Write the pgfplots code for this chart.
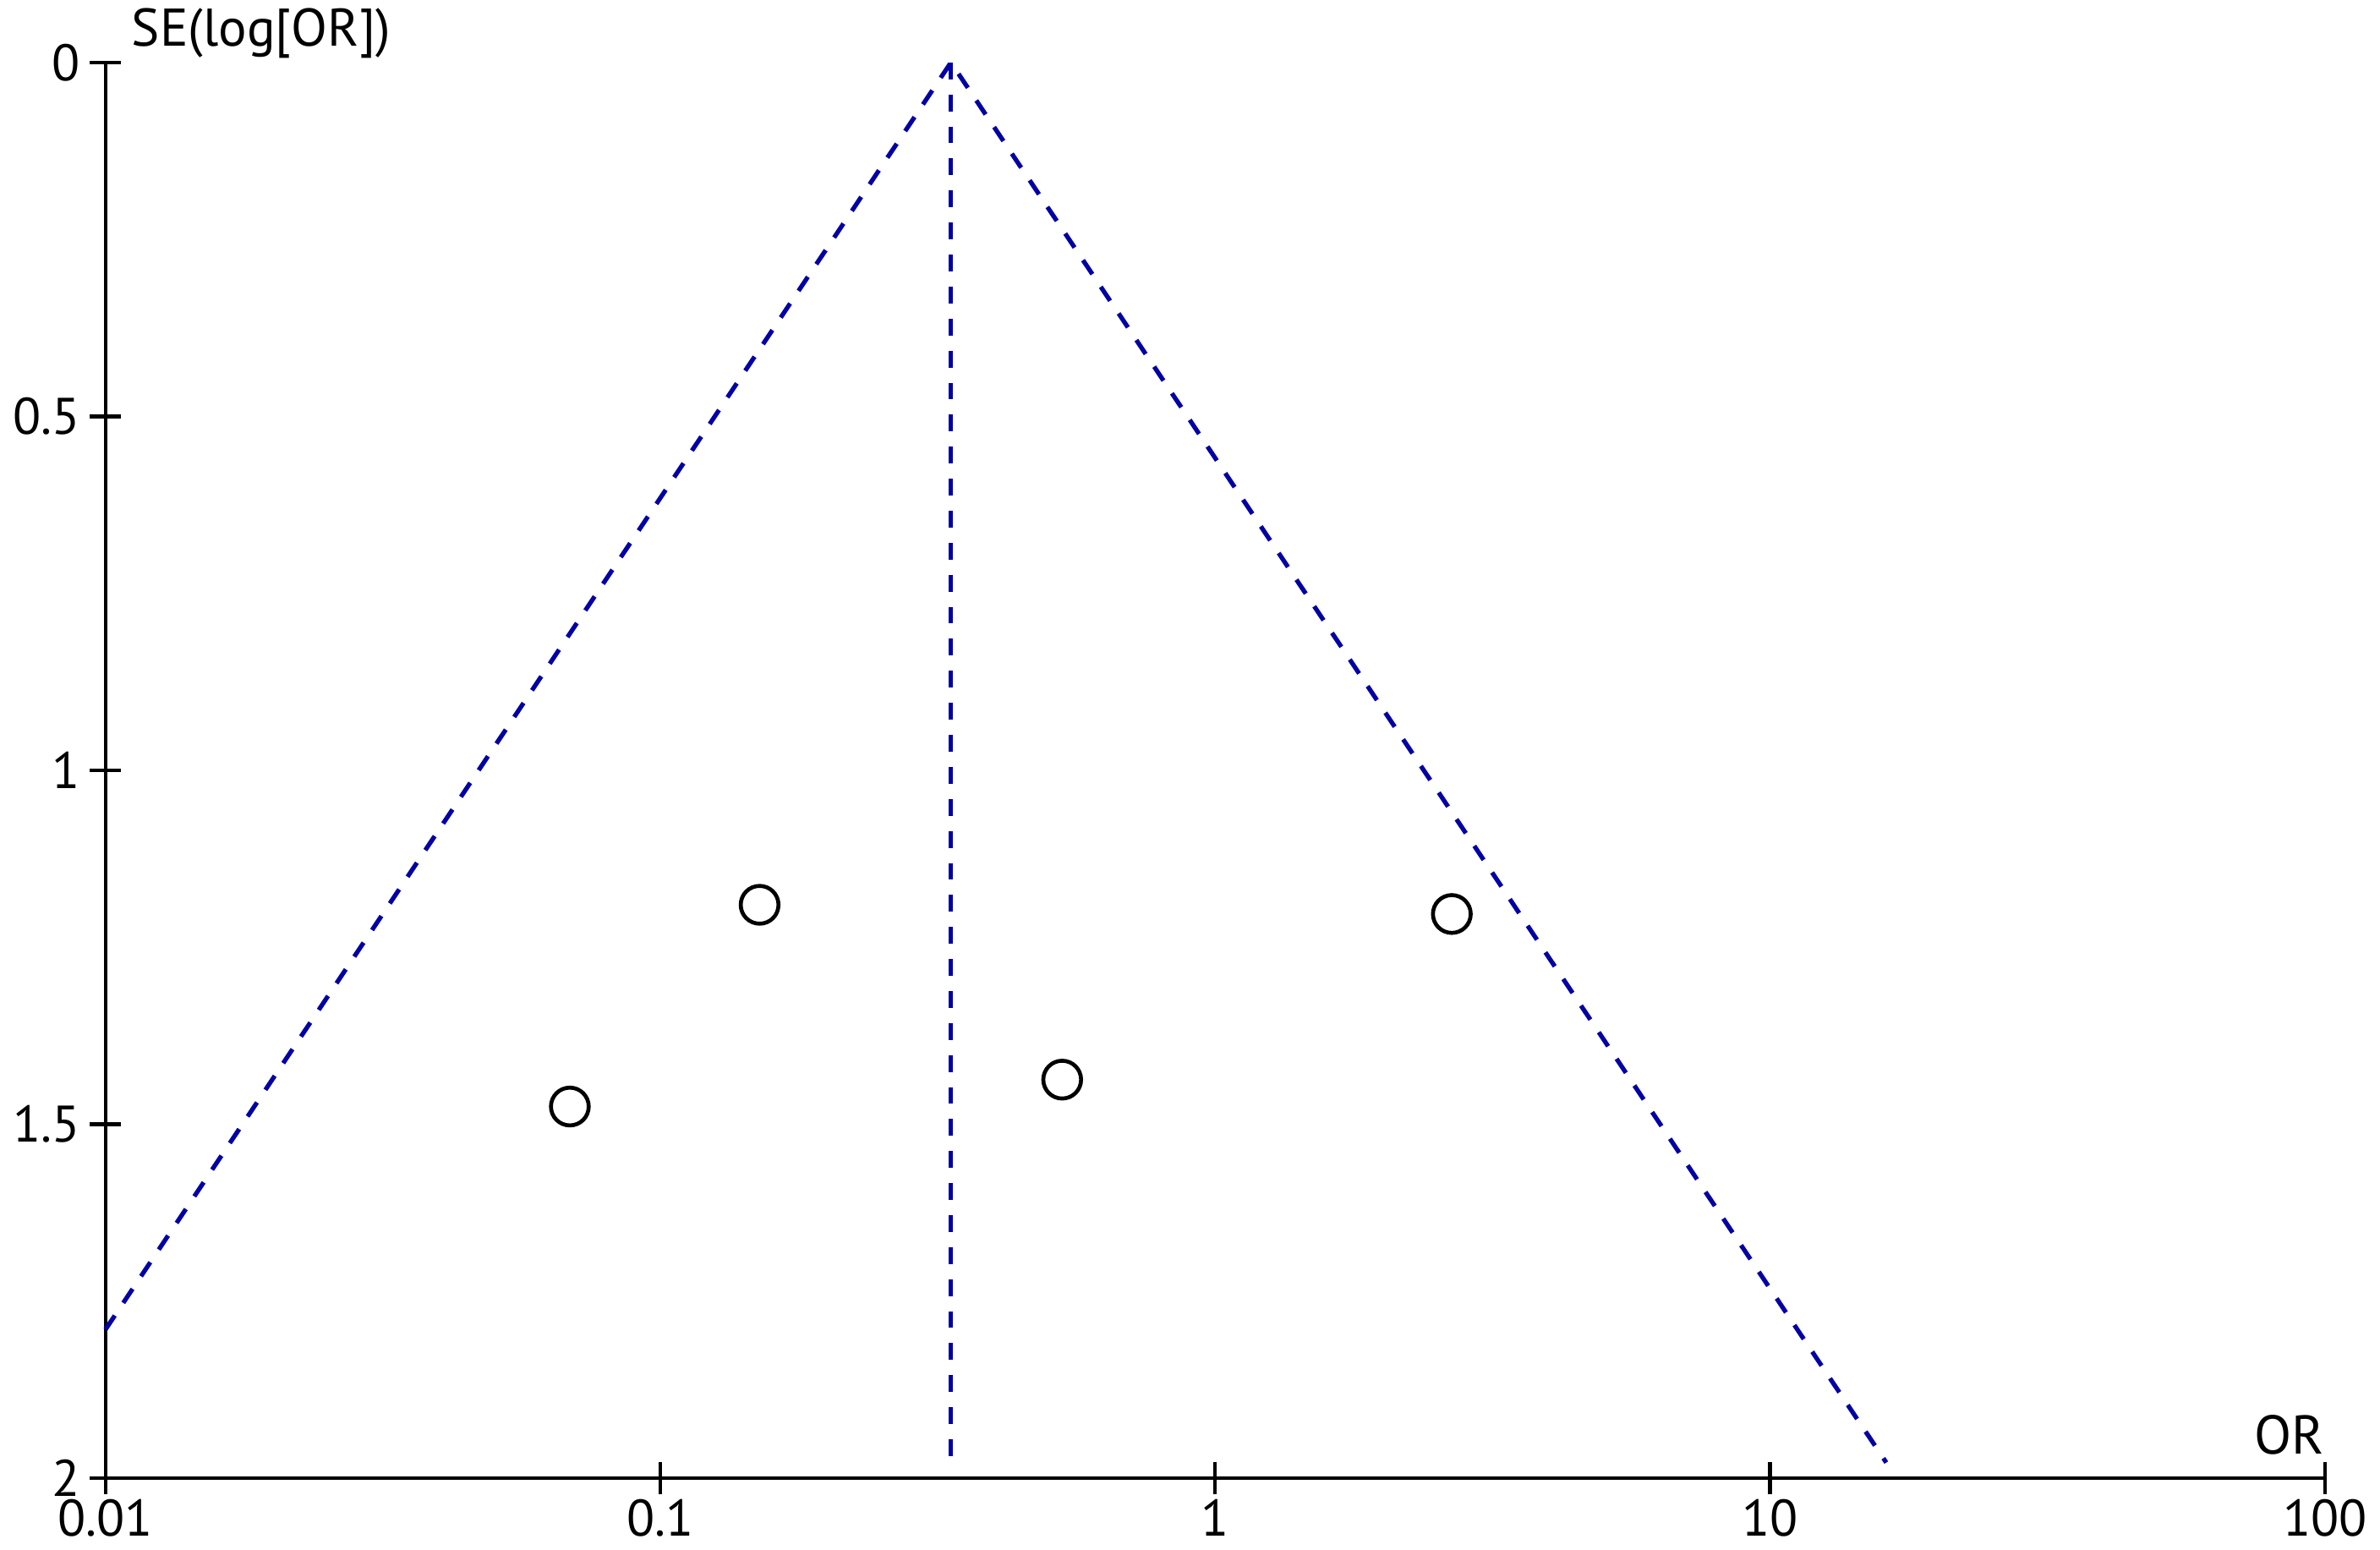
\documentclass[border=0pt]{standalone}
\usepackage{pgfplots}
\pgfplotsset{compat=1.18}
\usepackage{fontspec}
\setmainfont{PT Sans}
\definecolor{funnelblue}{RGB}{0,0,165}
\begin{document}
\begin{tikzpicture}
\begin{axis}[
  scale only axis,
  width=422.9pt, height=269.7pt,
  xmode=log, xmin=0.01, xmax=100,
  ymin=0, ymax=2, y dir=reverse,
  axis x line=bottom, axis y line=left,
  axis line style={-, line width=0.7pt, black},
  xtick={0.01,0.1,1,10,100},
  xticklabels={0.01,0.1,1,10,100},
  ytick={0,0.5,1,1.5,2},
  yticklabels={0,0.5,1,1.5,2},
  xminorticks=false, yminorticks=false,
  tick align=center,
  major tick length=6pt,
  tick style={line width=0.7pt, black},
  ticklabel style={font=\fontsize{9.8}{11}\selectfont, inner sep=0pt},
  xticklabel style={yshift=-0.8pt},
  yticklabel style={xshift=-1.7pt},
  /pgf/number format/assume math mode=true,
  clip=false,
]
\addplot[funnelblue, line width=0.85pt, dash pattern=on 3.2pt off 2.9pt] coordinates {(0.01,1.79) (0.334,0) (16.2,1.978)};
\addplot[funnelblue, line width=0.85pt, dash pattern=on 3.2pt off 2.9pt] coordinates {(0.334,0) (0.334,1.978)};
\addplot[only marks, mark=o, mark size=3.6pt, mark options={line width=0.75pt, black}] coordinates {
 (0.0687,1.475) (0.151,1.19) (0.530,1.437) (2.67,1.203)};
\end{axis}
\node[anchor=base west, font=\fontsize{10.1}{12}\selectfont, inner sep=0pt] at ([xshift=4.8pt,yshift=3.2pt]current axis.north west) {SE(log[OR])};
\node[anchor=base east, font=\fontsize{10.4}{12}\selectfont, inner sep=0pt] at ([xshift=0pt,yshift=4.6pt]current axis.south east) {OR};
\pgfresetboundingbox
\path ([xshift=-20.1pt,yshift=-13.6pt]current axis.south west) rectangle ([xshift=10.5pt,yshift=11.9pt]current axis.north east);
\end{tikzpicture}
\end{document}
